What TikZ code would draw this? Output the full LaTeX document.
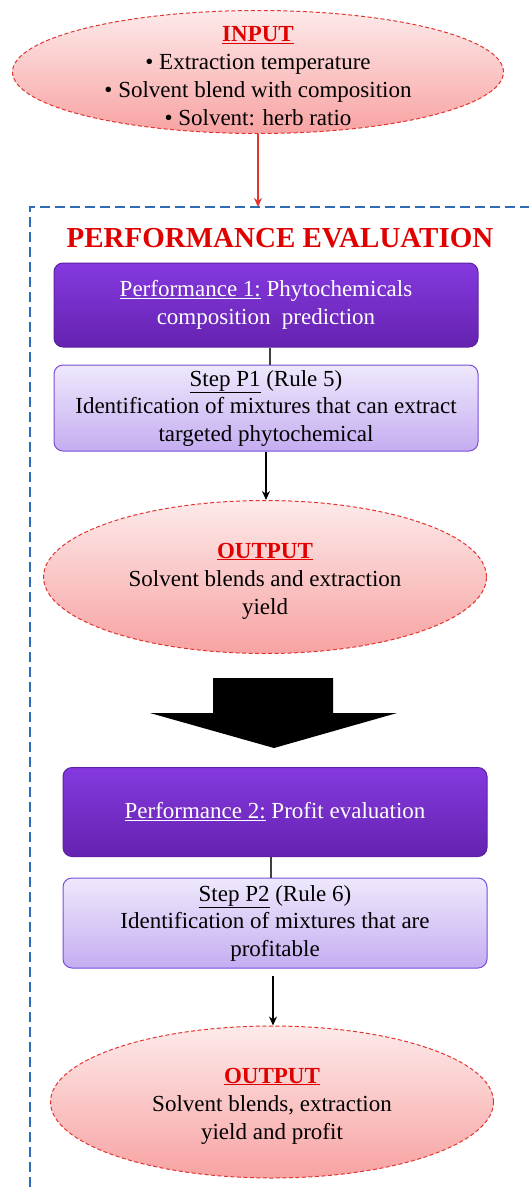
\documentclass[tikz,border=0pt]{standalone}
\usepackage{fontspec}
\setmainfont{Liberation Serif}
\usetikzlibrary{arrows.meta,positioning,shapes.geometric}
\definecolor{EllTop}   {HTML}{FDEAEA}
\definecolor{EllBot}   {HTML}{F8A2A2}
\definecolor{EllLine}  {HTML}{E3342F}
\definecolor{HeadRed}  {HTML}{E10000}
\definecolor{PerfTop}  {HTML}{8539DF}
\definecolor{PerfBot}  {HTML}{6522AF}
\definecolor{PerfLine} {HTML}{5B20A2}
\definecolor{StepTop}  {HTML}{EFE8FC}
\definecolor{StepBot}  {HTML}{C4ADF1}
\definecolor{StepLine} {HTML}{7A4ED8}
\definecolor{FrameBlue}{HTML}{2E6CB4}
\newcommand{\headtxt}[1]{\rule{0pt}{23pt}\textcolor{HeadRed}{\bfseries\underline{#1}}}
\begin{document}
\begin{tikzpicture}[x=1pt,y=-1pt,
  ioell/.style={ellipse,draw=EllLine,line width=1pt,
    dash pattern=on 4pt off 2.5pt,
    top color=EllTop,bottom color=EllBot,inner xsep=0pt,inner ysep=-25pt,
    align=center,font=\fontsize{23}{28}\selectfont},
  perfbox/.style={draw=PerfLine,line width=1pt,top color=PerfTop,
    bottom color=PerfBot,rounded corners=9pt,text=white,inner sep=0pt,
    align=center,minimum width=424pt,font=\fontsize{23}{28.5}\selectfont},
  stepbox/.style={draw=StepLine,line width=1pt,top color=StepTop,
    bottom color=StepBot,rounded corners=9pt,inner sep=0pt,align=center,
    minimum width=424pt,font=\fontsize{23}{27.5}\selectfont},
  arr/.style={-{Stealth[length=9pt,width=8pt]},line width=1.5pt},
  link/.style={draw=black!75,line width=1.8pt}]
  \useasboundingbox (0,0) rectangle (528,1191);
  % Frame
  \draw[FrameBlue,line width=1.8pt,dash pattern=on 10pt off 5pt]
    (560,207) -- (30,207) -- (30,1220);
  \coordinate (FrameTop) at (258,207);
  \node[ioell,minimum width=491pt,minimum height=123pt](IN) at (258,72)
    {\headtxt{INPUT}\\
    \textbullet\ Extraction temperature\\
    \textbullet\ Solvent blend with composition\\
    \textbullet\ Solvent: herb ratio};
  \node[text=HeadRed,font=\fontsize{29}{32}\selectfont\bfseries](PE)
    at (280,238) {PERFORMANCE EVALUATION};
  \node[perfbox,minimum height=84pt](P1) at (266,305)
    {\underline{Performance 1:} Phytochemicals\\composition\ \ prediction};
  \node[stepbox,minimum height=86pt](S1) at (266,408)
    {\underline{Step P1} (Rule 5)\\
    Identification of mixtures that can extract\\
    targeted phytochemical};
  \node[ioell,minimum width=443pt,minimum height=153pt](O1) at (265,577)
    {\headtxt{OUTPUT}\\
    Solvent blends and extraction\\yield};
  \node[perfbox,minimum height=89pt](P2) at (275,812)
    {\underline{Performance 2:} Profit evaluation};
  \node[stepbox,minimum height=90pt](S2) at (275,923)
    {\underline{Step P2} (Rule 6)\\
    Identification of mixtures that are\\profitable};
  \node[ioell,minimum width=443pt,minimum height=152pt](O2) at (272,1102)
    {\headtxt{OUTPUT}\\
    Solvent blends, extraction\\yield and profit};
  % Big block arrow
  \fill[black] (213,678) -- (333,678) -- (333,713) -- (397,713)
    -- (274,748) -- (150,713) -- (213,713) -- cycle;
  % Connectors
  \draw[arr,EllLine,line width=1.8pt](IN.south)--(FrameTop);
  \draw[link](P1.south-|270,0)--(S1.north-|270,0);
  \draw[arr](S1.south-|266,0)--(O1.north-|266,0);
  \draw[link](P2.south-|271,0)--(S2.north-|271,0);
  \draw[arr]([yshift=-7pt]S2.south-|273,0)--(O2.north-|273,0);
\end{tikzpicture}
\end{document}
